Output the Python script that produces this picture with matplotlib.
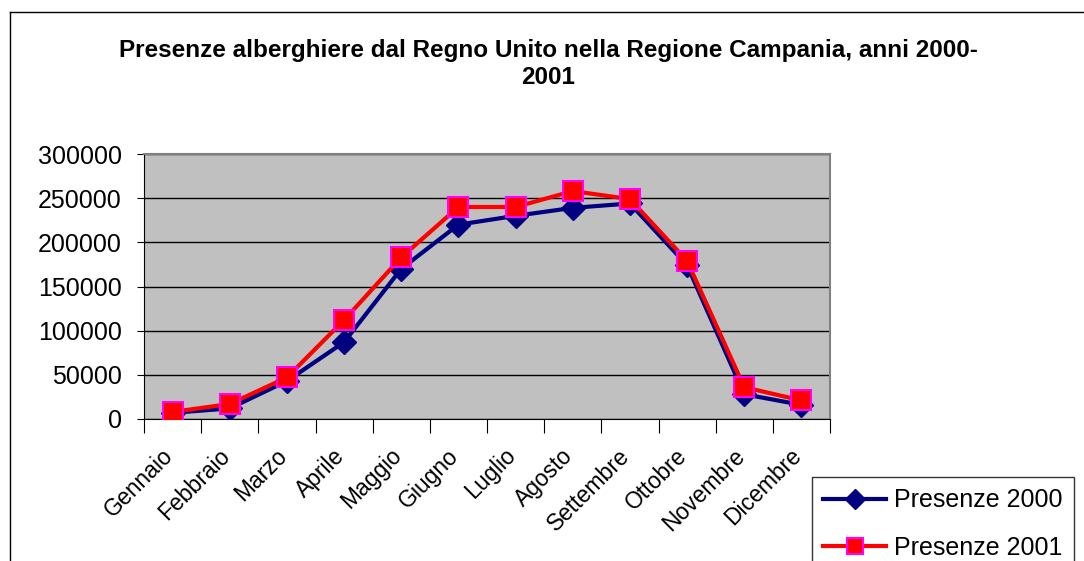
import numpy as np
import matplotlib.pyplot as plt
from matplotlib.lines import Line2D

plt.rcParams['font.family'] = ['Liberation Sans', 'DejaVu Sans']

mesi = ["Gennaio", "Febbraio", "Marzo", "Aprile", "Maggio", "Giugno",
        "Luglio", "Agosto", "Settembre", "Ottobre", "Novembre", "Dicembre"]
presenze_2000 = [7000, 12000, 43000, 87000, 170000, 220000,
                 230000, 239000, 244000, 174000, 28000, 16000]
presenze_2001 = [8000, 17000, 47000, 112000, 183000, 240000,
                 240000, 258000, 249000, 179000, 36000, 21000]

fig = plt.figure(figsize=(10.84, 5.61), dpi=100)
ax = fig.add_axes([144/1084, 1 - 419/561, (830 - 144)/1084, (419 - 154)/561])
ax.set_facecolor('#C0C0C0')

x = np.arange(len(mesi))
ax.plot(x, presenze_2000, color='#000080', lw=3, marker='D', ms=12,
        mfc='#000080', mec='#000080', label='Presenze 2000', zorder=3)
ax.plot(x, presenze_2001, color='#FF0000', lw=3, marker='s', ms=14,
        mfc='#FF0000', mec='#FF00FF', mew=1.5, label='Presenze 2001', zorder=4)

ax.set_xlim(-0.5, len(mesi) - 0.5)
ax.set_ylim(0, 300000)
ax.set_yticks(np.arange(0, 300001, 50000))
ax.tick_params(axis='y', labelsize=18, length=5, pad=11, color='black')
ax.yaxis.grid(True, color='black', lw=1)
ax.set_axisbelow(True)

# ticks between categories, labels slightly left of centres (as Excel does)
ax.set_xticks(np.arange(-0.5, len(mesi), 1))
ax.set_xticklabels([])
ax.tick_params(axis='x', which='major', length=10, color='black')
ax.set_xticks(x - 0.2, minor=True)
ax.set_xticklabels(mesi, minor=True, rotation=45, ha='right',
                   rotation_mode='anchor', fontsize=16.5)
ax.tick_params(axis='x', which='minor', length=0, pad=18)

for s in ['top', 'right']:
    ax.spines[s].set_color('#808080')
    ax.spines[s].set_linewidth(1.5)
for s in ['left', 'bottom']:
    ax.spines[s].set_color('black')

fig.text(548/1084, 1 - 51/561, "Presenze alberghiere dal Regno Unito nella Regione Campania, anni 2000-",
         ha='center', va='center', fontsize=17.5, fontweight='bold')
fig.text(548/1084, 1 - 78/561, "2001", ha='center', va='center',
         fontsize=17.5, fontweight='bold')

# chart area border
fig.add_artist(Line2D([10/1084, 1], [1 - 12/561, 1 - 12/561], color='black', lw=1))
fig.add_artist(Line2D([10/1084, 10/1084], [0, 1 - 12/561], color='black', lw=1))

leg = fig.legend(loc='upper left', bbox_to_anchor=(812/1084, 1 - 477/561),
                 borderaxespad=0, fontsize=18, frameon=True, fancybox=False,
                 handlelength=2.5, borderpad=0.45, labelspacing=0.95,
                 handletextpad=0.35, markerscale=0.85)
leg.get_frame().set_edgecolor('black')
leg.get_frame().set_linewidth(1)

fig.savefig('out.png', dpi=100)
